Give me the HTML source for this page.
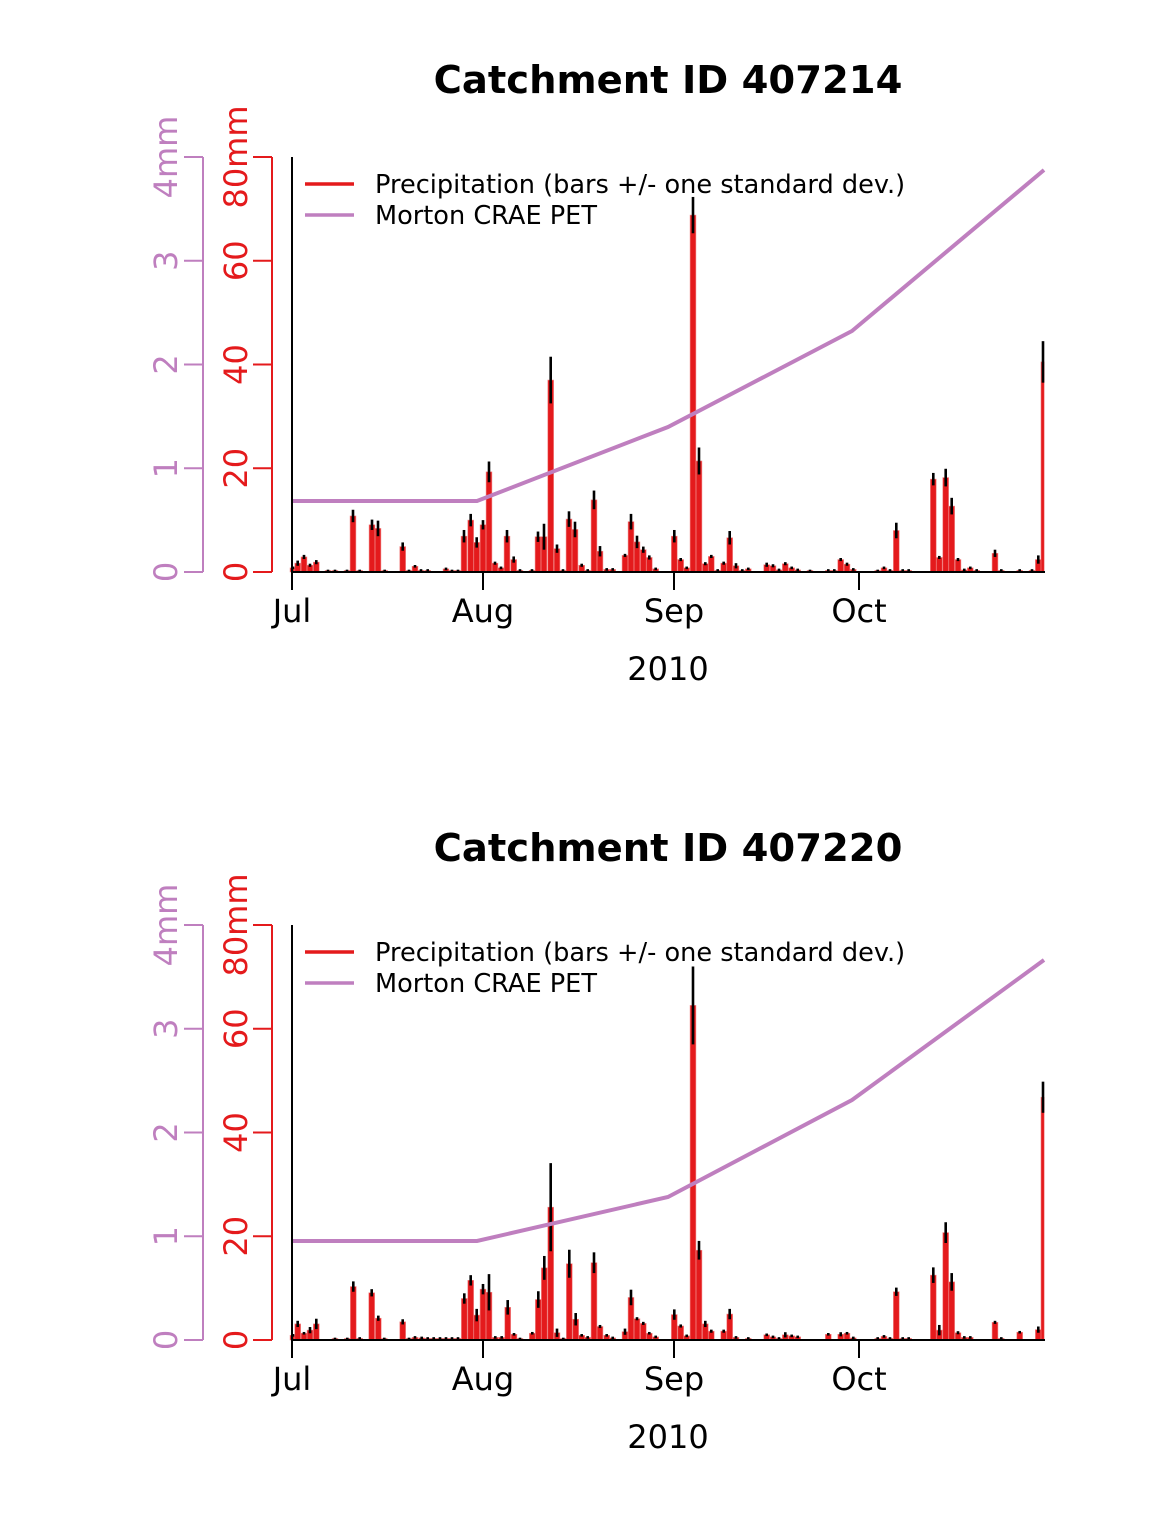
<!DOCTYPE html>
<html><head><meta charset="utf-8"><style>body{margin:0;background:#fff}svg{display:block}text{font-family:"DejaVu Sans","Liberation Sans",sans-serif}</style></head>
<body>
<svg id="s" width="1152" height="1536" xmlns="http://www.w3.org/2000/svg"></svg>
<script>
const S=document.getElementById('s');let h='';
const d1=[[293,.8,0],[297.7,1.7,.5],[304,2.9,.4],[310,1.3,.3],[316.3,1.9,.4],[328,.2,0],[335,.2,0],[347,.2,0],[353,10.8,1.2],[359.7,.2,0],[372,9.1,1],[378,8.4,1.5],[384.7,.2,0],[402.7,4.9,.8],[409,.2,0],[415,1.1,.2],[421,.3,0],[427.7,.3,0],[446,.6,0],[452,.2,0],[458,.2,0],[464,6.9,1.2],[470.7,10,1.2],[476.7,5.7,1],[483,9.1,.9],[489,19.3,2],[495,1.7,.3],[501,.8,0],[507,6.9,1.2],[513.7,2.4,.6],[520,.3,0],[532,.3,0],[538,6.8,1],[544,6.8,2.5],[550.7,37,4.5],[557,4.5,.8],[563,.3,0],[569,10.2,1.5],[575,8.2,1.5],[581.7,1.3,.3],[587.7,.3,0],[594,13.9,1.8],[600,4,1],[606.7,.5,0],[612.7,.5,0],[625,3.2,.3],[631,9.7,1.5],[637,5.8,1.2],[643.3,4.3,.6],[649.3,2.8,.4],[655.7,.6,0],
[674.3,6.9,1.2],[680.7,2.4,.3],[686.7,.8,0],[693,68.8,3.5],[699,21.4,2.6],[705.3,1.6,.3],[711.3,3,.3],[717.7,.3,0],[723.7,1.7,.3],[729.7,6.6,1.3],[736,1.2,.5],[742.3,.3,0],[748.3,.6,0],[766.7,1.4,.4],[773,1.2,.3],[779,.4,0],[785.3,1.6,.3],[791.7,.8,0],[797.7,.4,0],[810,.2,0],[828.3,.3,0],[834.3,.3,0],[840.7,2.4,.3],[847,1.5,.3],[853.3,.5,0],[877.7,.2,0],[884,.8,0],[890,.3,0],[896.3,8,1.5],[902.7,.3,0],[908.7,.3,0],[933.3,17.9,1.2],[939.3,2.8,.3],[945.7,18.2,1.7],[951.7,12.7,1.6],[958,2.4,.3],[964.3,.4,0],[970.3,.8,0],[976.7,.3,0],[995,3.6,.7],[1001.3,.3,0],[1019.7,.3,0],[1032,.3,0],[1038.3,2.4,.8],[1043,40.5,4]];
const d2=[[293,.9,0],[297.7,3.1,.6],[304,1.3,.2],[310,1.9,.6],[316.3,3.1,1],[335,.2,0],[347.3,.2,0],[353.3,10.3,1],[359.7,.3,0],[371.7,9.1,.7],[378.3,4.2,.5],[384.3,.2,0],[402.7,3.5,.5],[409,.2,0],[415,.5,0],[421.7,.4,0],[427.7,.3,0],[433.7,.3,0],[440,.3,0],[446,.3,0],[452,.3,0],[458,.3,0],[464.3,8,1],[470.7,11.5,1],[476.7,4.8,1.2],[483,9.8,1],[489,9.2,3.5],[495.3,.5,0],[501.7,.5,0],[507.7,6.3,1.4],[514,1.1,.2],[520,.2,0],[532.3,1.3,.2],[538.3,7.8,1.6],[544.3,13.9,2.3],[550.7,25.6,8.5],[557,1.4,.8],[563.3,.2,0],[569.3,14.7,2.7],[575.7,4,1.2],[581.7,.9,0],[587.7,.5,0],[594,14.9,2],[600,2.6,.3],[606.7,.9,0],[612.7,.4,0],[625,1.6,.6],[631,8.2,1.5],[637,4.1,.3],[643.3,3.2,.3],[649.3,1.3,.2],[655.7,.6,0],
[674.3,4.9,1],[680.7,2.7,.3],[686.7,.8,0],[693,64.5,7.5],[699,17.3,1.8],[705.3,3.1,.6],[711.3,1.7,.3],[723.7,1.7,.3],[729.7,5,1],[736,.5,0],[748.3,.3,0],[766.7,1,.2],[773,.6,0],[779,.3,0],[785.3,1,.5],[791.7,.8,0],[797.7,.6,0],[828.3,1.1,.2],[840.7,1.1,.4],[847,1.3,.2],[853.3,.4,0],[877.7,.3,0],[884,.7,0],[890,.3,0],[896.3,9.3,.8],[902.7,.3,0],[908.7,.3,0],[933.3,12.5,1.5],[939.3,1.9,1],[945.7,20.7,2],[951.7,11.2,1.7],[958,1.4,.3],[964.3,.5,0],[970.3,.5,0],[995,3.4,.3],[1001.3,.3,0],[1019.7,1.5,.2],[1038.3,2,.6],[1043,46.8,3]];
function chart(o,title,data,pet){
 const b=572+o, t=157+o, k=(b-t)/80;
 h+=`<text x="668" y="${93+o}" font-size="38.5" font-weight="bold" text-anchor="middle">${title}</text>`;
 for(const [x,v,sd] of data){
  let y=b-v*k, hh=Math.max(v*k,1.5);
  let x0=x-2.9,w=5.8; if(x>1040){x0=1041;w=3.2;}
  h+=`<rect x="${x0}" y="${b-hh}" width="${w}" height="${hh}" fill="#e41a1c" stroke="#f08080" stroke-width="0.6"/>`;
  let s=Math.max(sd,0.25)*k;
  h+=`<line x1="${x}" x2="${x}" y1="${y-s}" y2="${Math.min(y+s,b)}" stroke="#000" stroke-width="2.6"/>`;
 }
 h+=`<polyline points="${pet.map(p=>p[0]+','+(p[1]+o)).join(' ')}" fill="none" stroke="#bf7fbf" stroke-width="4"/>`;
 h+=`<line x1="292" x2="292" y1="${t}" y2="${b}" stroke="#000" stroke-width="2"/>`;
 h+=`<line x1="291" x2="1045" y1="${b}" y2="${b}" stroke="#000" stroke-width="2"/>`;
 [[292,'Jul'],[483,'Aug'],[674,'Sep'],[859,'Oct']].forEach(([x,l])=>{
  h+=`<line x1="${x}" x2="${x}" y1="${b}" y2="${b+18}" stroke="#000" stroke-width="2"/><text x="${x}" y="${b+50}" font-size="32" text-anchor="middle">${l}</text>`;});
 h+=`<text x="668" y="${b+108}" font-size="32" text-anchor="middle">2010</text>`;
 h+=`<line x1="272" x2="272" y1="${t}" y2="${b}" stroke="#e41a1c" stroke-width="2"/>`;
 [0,20,40,60,80].forEach(v=>{const y=b-v*k;
  h+=`<line x1="253" x2="272" y1="${y}" y2="${y}" stroke="#e41a1c" stroke-width="2"/><text transform="translate(247,${y}) rotate(-90)" font-size="32" fill="#e41a1c" text-anchor="middle">${v==80?'80mm':v}</text>`;});
 h+=`<line x1="203" x2="203" y1="${t}" y2="${b}" stroke="#bf7fbf" stroke-width="2"/>`;
 [0,1,2,3,4].forEach(v=>{const y=b-v*(b-t)/4;
  h+=`<line x1="184" x2="203" y1="${y}" y2="${y}" stroke="#bf7fbf" stroke-width="2"/><text transform="translate(177,${y}) rotate(-90)" font-size="32" fill="#bf7fbf" text-anchor="middle">${v==4?'4mm':v}</text>`;});
 h+=`<line x1="305" x2="354" y1="${184+o}" y2="${184+o}" stroke="#e41a1c" stroke-width="3.5"/><text x="375" y="${193+o}" font-size="25.6">Precipitation (bars +/- one standard dev.)</text>`;
 h+=`<line x1="305" x2="354" y1="${215+o}" y2="${215+o}" stroke="#bf7fbf" stroke-width="3.5"/><text x="375" y="${224+o}" font-size="25.6">Morton CRAE PET</text>`;
}
chart(0,'Catchment ID 407214',d1,[[292,501],[477,501],[668,427],[852,331],[1044,170]]);
chart(768,'Catchment ID 407220',d2,[[292,473],[477,473],[668,429],[852,332],[1044,192]]);
S.innerHTML=h;
</script>
</body></html>
